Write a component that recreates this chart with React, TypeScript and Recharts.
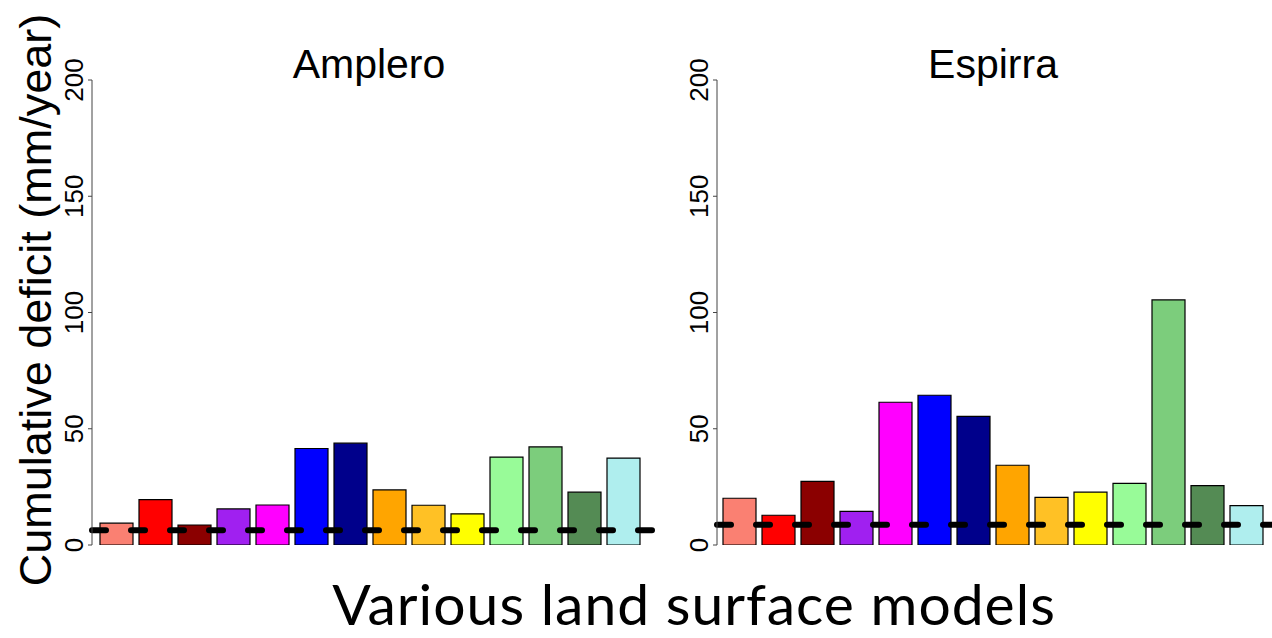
import { FC } from 'react'
import { BarChart, Bar, Cell, XAxis, YAxis, ReferenceLine } from 'recharts'

// 14 land surface models, same order / colours in both panels
const models = [
  'LSM01', 'LSM02', 'LSM03', 'LSM04', 'LSM05', 'LSM06', 'LSM07',
  'LSM08', 'LSM09', 'LSM10', 'LSM11', 'LSM12', 'LSM13', 'LSM14',
]
const modelColors = [
  '#FA8072', '#FF0000', '#8B0000', '#A020F0', '#FF00FF', '#0000FF', '#00008B',
  '#FFA500', '#FFC125', '#FFFF00', '#98FB98', '#7CCD7C', '#548B54', '#AFEEEE',
]
const ampleroDeficit = [9.4, 19.5, 8.6, 15.5, 17.2, 41.5, 43.8, 23.7, 17.1, 13.4, 37.8, 42.2, 22.7, 37.4]
const espirraDeficit = [20.1, 12.8, 27.4, 14.5, 61.4, 64.4, 55.3, 34.3, 20.5, 22.7, 26.5, 105.4, 25.5, 16.9]
const ampleroObserved = 6.3
const espirraObserved = 8.7
const yTicks = [0, 50, 100, 150, 200]

const ARIAL = '"Liberation Sans", Arial, sans-serif'

const RotTick = (props: any) => {
  const { x, y, payload } = props
  return (
    <text
      x={x}
      y={y}
      transform={`rotate(-90 ${x} ${y})`}
      textAnchor="middle"
      fontSize={26}
      fontFamily={ARIAL}
      fill="#000"
    >
      {payload.value}
    </text>
  )
}

interface IPanel {
  values: number[]
  observed: number
  left: number
  width: number
  padLeft: number
  padRight: number
  marginRight: number
}

const Panel: FC<IPanel> = ({ values, observed, left, width, padLeft, padRight, marginRight }) => {
  const data = models.map((m, i) => ({ model: m, deficit: values[i] }))
  return (
    <div style={{ position: 'absolute', left, top: 0 }}>
      <BarChart
        width={width}
        height={638}
        data={data}
        margin={{ top: 80, right: marginRight, bottom: 93, left: 0 }}
        barCategoryGap={3}
      >
        <XAxis
          dataKey="model"
          tick={false}
          tickLine={false}
          height={0}
          padding={{ left: padLeft, right: padRight }}
          axisLine={{ stroke: '#777', strokeWidth: 2 }}
        />
        <YAxis
          domain={[0, 200]}
          ticks={yTicks}
          width={92}
          tickSize={4}
          tickMargin={5}
          tick={<RotTick />}
          axisLine={{ stroke: '#444' }}
          tickLine={{ stroke: '#444' }}
          allowDataOverflow
        />
        <Bar dataKey="deficit" stroke="#000" strokeWidth={1.2} isAnimationActive={false}>
          {data.map((d, i) => (
            <Cell key={d.model} fill={modelColors[i]} />
          ))}
        </Bar>
        <ReferenceLine
          y={observed}
          stroke="#000"
          strokeWidth={6}
          strokeDasharray="14 25"
          strokeLinecap="round"
        />
      </BarChart>
    </div>
  )
}

const App: FC = () => {
  return (
    <div
      style={{
        position: 'absolute',
        left: 0,
        top: 0,
        width: 1272,
        height: 638,
        background: '#fff',
        overflow: 'hidden',
      }}
    >
      <Panel values={ampleroDeficit} observed={ampleroObserved} left={0} width={660} padLeft={5} padRight={15} marginRight={2} />
      <Panel values={espirraDeficit} observed={espirraObserved} left={625} width={647} padLeft={3} padRight={6} marginRight={0} />
      <svg width={1272} height={638} style={{ position: 'absolute', left: 0, top: 0, pointerEvents: 'none' }}>
        <text x={369} y={78} textAnchor="middle" fontSize={41} fontFamily={ARIAL}>Amplero</text>
        <text x={993} y={78} textAnchor="middle" fontSize={41} fontFamily={ARIAL}>Espirra</text>
        <text
          x={51}
          y={300}
          transform="rotate(-90 51 300)"
          textAnchor="middle"
          fontSize={45}
          fontFamily={ARIAL}
        >
          Cumulative deficit (mm/year)
        </text>
        <text
          x={694}
          y={625}
          textAnchor="middle"
          fontSize={57}
          letterSpacing={1}
          fontFamily="Lato, sans-serif"
        >
          Various land surface models
        </text>
      </svg>
    </div>
  )
}

export default App
